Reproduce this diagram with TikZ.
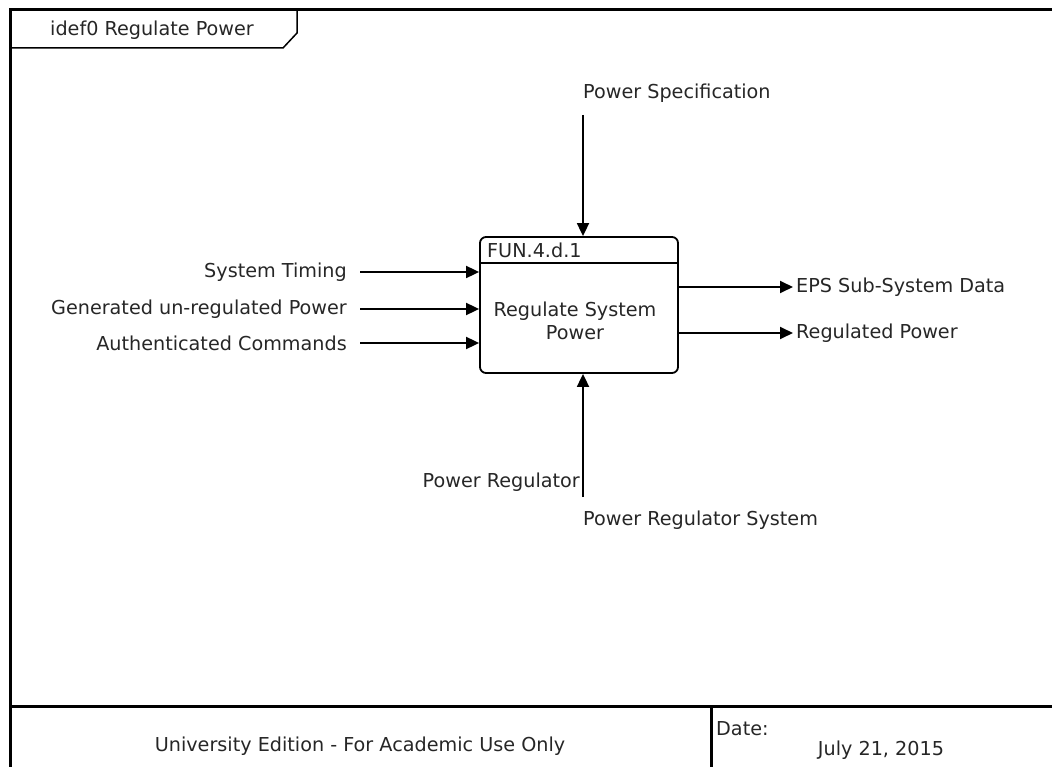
\documentclass[tikz,border=0pt]{standalone}
\usepackage{fontspec}
\setmainfont{DejaVu Sans}
\usetikzlibrary{arrows.meta, positioning, calc}

\begin{document}
\begin{tikzpicture}[x=1pt, y=-1pt, font=\fontsize{19.2}{23}\selectfont,
            frame/.style={line width=3pt},
            fbox/.style={draw, line width=1.8pt, rounded corners=6pt, minimum width=198pt, minimum height=136pt},
            flow/.style={line width=1.8pt, -{Triangle[length=13pt, width=12pt]}},
            lbl/.style={inner sep=0pt, text=black!85}]
            \useasboundingbox (0,0) rectangle (1052,767);
            % frame and title tab
            \draw[frame] (10,767) -- (10,10) -- (1052,10);
            \draw[frame] (10,706) -- (1052,706);
            \draw[frame] (711,706) -- (711,767);
            \draw[line width=1.5pt] (10,48) -- (283,48) -- (297,33) -- (297,10);
            \node[lbl] (title) at (152,30) {idef0 Regulate Power};
            % function box
            \node[fbox] (fn) at (579,305) {};
            \coordinate (hdr) at (0,263);
            \draw[line width=1.8pt] (fn.west |- hdr) -- (fn.east |- hdr);
            \node[lbl, anchor=west] (id) at (487,250) {FUN.4.d.1};
            \node[lbl, align=center] (name) at (575,321) {Regulate System\\Power};
            % inputs
            \node[lbl, anchor=east] (timing) at (347,272) {System Timing};
            \node[lbl, anchor=east] (raw) at (347,309) {Generated un-regulated Power};
            \node[lbl, anchor=east] (cmd) at (347,343) {Authenticated Commands};
            \draw[flow] ([xshift=13pt]timing.east) -- (timing.east -| fn.west);
            \draw[flow] ([xshift=13pt]raw.east) -- (raw.east -| fn.west);
            \draw[flow] ([xshift=13pt]cmd.east) -- (cmd.east -| fn.west);
            % outputs
            \node[lbl, anchor=west] (eps) at (796,287) {EPS Sub-System Data};
            \node[lbl, anchor=west] (reg) at (796,333) {Regulated Power};
            \draw[flow] (eps.west -| fn.east) -- ([xshift=-3pt]eps.west);
            \draw[flow] (reg.west -| fn.east) -- ([xshift=-3pt]reg.west);
            % control
            \node[lbl, anchor=west] (spec) at (583,93) {Power Specification};
            \coordinate (ctl) at (583,115);
            \draw[flow] (ctl) -- (ctl |- fn.north);
            % mechanism
            \coordinate (mech) at (583,497);
            \node[lbl, anchor=east] (regu) at (580,482) {Power Regulator};
            \node[lbl, anchor=west] (regsys) at (583,520) {Power Regulator System};
            \draw[flow] (mech) -- (mech |- fn.south);
            % footer
            \node[lbl] (edition) at (360,746) {University Edition - For Academic Use Only};
            \node[lbl, anchor=west] (date) at (716,729) {Date:};
            \node[lbl] (day) at (881,750) {July 21, 2015};
        \end{tikzpicture}
\end{document}
